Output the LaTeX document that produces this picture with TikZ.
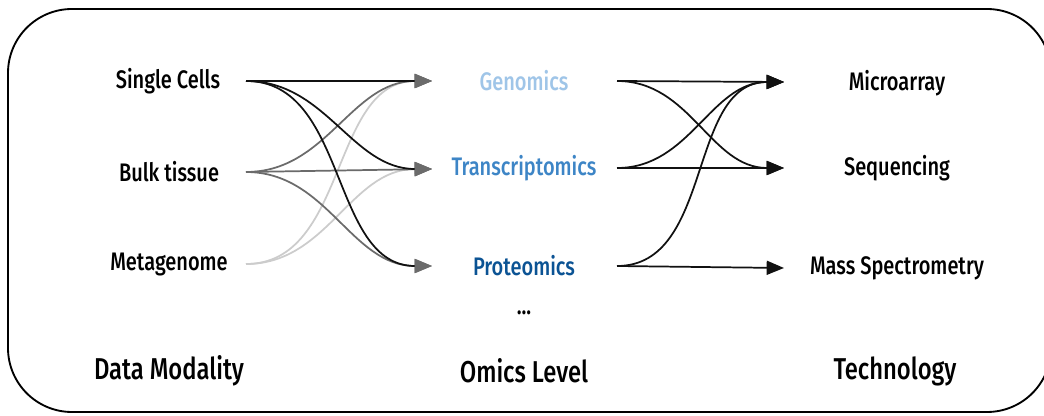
\documentclass[tikz,border=0pt]{standalone}
\usepackage{fontspec}
\setmainfont{Fira Sans}[FakeStretch=0.8, BoldFont={Fira Sans Medium}, BoldFeatures={FakeStretch=0.79}]
\usetikzlibrary{arrows.meta}
\definecolor{ink}{HTML}{111111}
\definecolor{midgray}{HTML}{6B6B6B}
\definecolor{lightgray}{HTML}{CCCCCC}
\definecolor{genblue}{HTML}{9FC5E8}
\definecolor{trablue}{HTML}{3D85C6}
\definecolor{problue}{HTML}{0B5394}
\tikzset{
  item/.style={font=\fontsize{19}{21}\selectfont\bfseries, inner sep=0pt, anchor=center},
  heading/.style={font=\fontsize{22.6}{25}\selectfont\bfseries, inner sep=0pt, anchor=center},
  flow/.style={line width=1.3pt},
  lefttip/.style={-{Triangle[length=13pt,width=10.5pt,color=midgray]}},
  righttip/.style={-{Triangle[length=13pt,width=10.5pt]}},
}
\begin{document}
\begin{tikzpicture}[x=0.75pt,y=-0.75pt]
\clip (0,0) rectangle (1044,416);
\fill[white] (0,0) rectangle (1044,416);
% frame
\draw[line width=1.4pt, rounded corners=48pt] (8,9) rectangle (1051,412);

% column labels
\node[item] (sc) at (168,81) {Single Cells};
\node[item] (bt) at (169,172) {Bulk tissue};
\node[item] (mg) at (169,265) {Metagenome};

\node[item, text=genblue] (gen) at (524,81) {Genomics};
\node[item, text=trablue] (tra) at (524,168) {Transcriptomics};
\node[item, text=problue] (pro) at (524,266) {Proteomics};
\node[item] (dots) at (524,313) {...};

\node[item] (mic) at (897,83) {Microarray};
\node[item] (seq) at (897,168) {Sequencing};
\node[item] (mas) at (897,268) {Mass Spectrometry};

\node[heading] (h1) at (169,371) {Data Modality};
\node[heading] (h2) at (524,371) {Omics Level};
\node[heading] (h3) at (895,371) {Technology};

% connector ports
\coordinate (sc-o) at (246,81);
\coordinate (bt-o) at (246,172);
\coordinate (mg-o) at (246,264);
\coordinate (gen-i) at (432,81);
\coordinate (tra-i) at (432,169);
\coordinate (pro-i) at (432,266);
\coordinate (gen-o) at (617,81);
\coordinate (tra-o) at (617,168);
\coordinate (pro-o) at (617,266);
\coordinate (mic-i) at (784,82);
\coordinate (seq-i) at (784,168);
\coordinate (mas-i) at (784,268);

% data modality -> omics level
\draw[flow, lefttip, lightgray] (mg-o) to[out=0,in=180] (gen-i);
\draw[flow, lefttip, lightgray] (mg-o) to[out=0,in=180] (tra-i);
\draw[flow, lefttip, midgray] (bt-o) to[out=0,in=180] (gen-i);
\draw[flow, lefttip, midgray] (bt-o) -- (tra-i);
\draw[flow, lefttip, midgray] (bt-o) to[out=0,in=180] (pro-i);
\draw[flow, lefttip, ink] (sc-o) -- (gen-i);
\draw[flow, lefttip, ink] (sc-o) to[out=0,in=180] (tra-i);
\draw[flow, lefttip, ink] (sc-o) to[out=0,in=180] (pro-i);

% omics level -> technology
\draw[flow, righttip, ink] (gen-o) -- (mic-i);
\draw[flow, righttip, ink] (gen-o) to[out=0,in=180] (seq-i);
\draw[flow, righttip, ink] (tra-o) to[out=0,in=180] (mic-i);
\draw[flow, righttip, ink] (tra-o) -- (seq-i);
\draw[flow, righttip, ink] (pro-o) to[out=0,in=180] (mic-i);
\draw[flow, righttip, ink] (pro-o) -- (mas-i);
\end{tikzpicture}
\end{document}
